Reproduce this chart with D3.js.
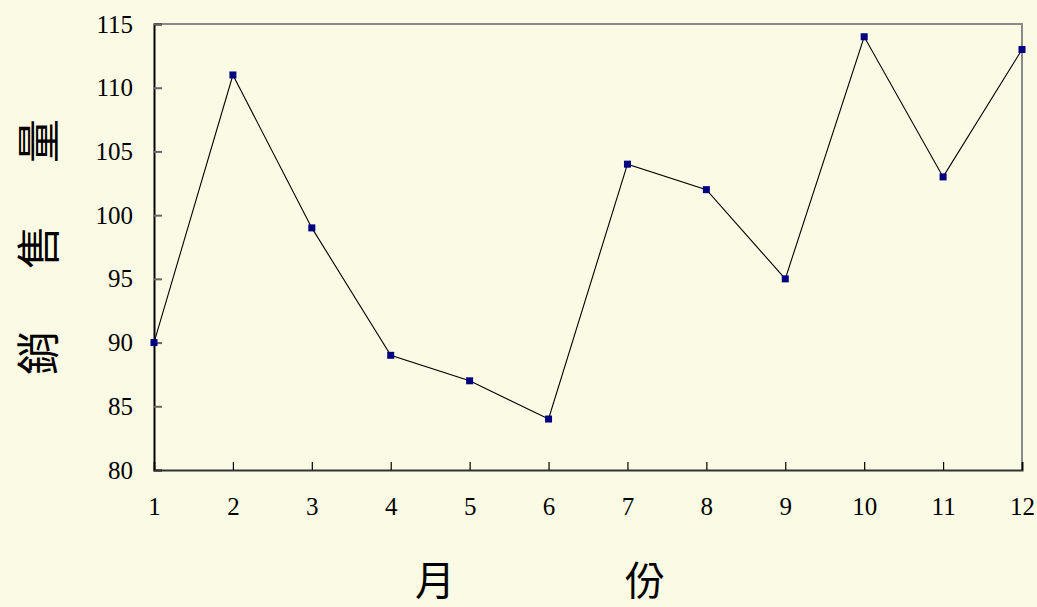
<!DOCTYPE html>
<html><head><meta charset="utf-8">
<script src="https://cdn.jsdelivr.net/npm/d3@7"></script>
<style>html,body{margin:0;padding:0;background:#FBFAE4;}svg{display:block;}</style>
</head><body>
<script>
const months = [1,2,3,4,5,6,7,8,9,10,11,12];
const sales = [90,111,99,89,87,84,104,102,95,114,103,113];
const yTicks = [80,85,90,95,100,105,110,115];
const yTitleChars = ["銷","售","量"];
const xTitleChars = ["月","份"];

const W = 1037, H = 607;
const svg = d3.select("body").append("svg").attr("width", W).attr("height", H);
svg.append("rect").attr("width", W).attr("height", H).attr("fill", "#FBFAE4");

const x = d3.scaleLinear().domain([1,12]).range([154,1022]);
const y = d3.scaleLinear().domain([80,115]).range([470,24]);

// frame top/right (gray)
svg.append("path").attr("d", `M${x(1)},${y(115)}H${x(12)}V${y(80)}`)
  .attr("fill","none").attr("stroke","#8a8a8a").attr("stroke-width",2);

// y axis
const ya = svg.append("g").attr("transform", `translate(${x(1)},0)`)
  .call(d3.axisLeft(y).tickValues(yTicks).tickSize(-8).tickPadding(21).tickFormat(d3.format("d")));
ya.select(".domain").attr("stroke","#000").attr("stroke-width",2);
ya.selectAll(".tick line").attr("stroke","#666").attr("stroke-width",2);
ya.selectAll("text").attr("font-family","'Liberation Serif','Times New Roman',serif").attr("font-size",25).attr("fill","#000");

// x axis
const xa = svg.append("g").attr("transform", `translate(0,${y(80)})`)
  .call(d3.axisBottom(x).tickValues(months).tickSize(-8).tickPadding(27).tickFormat(d3.format("d")));
xa.select(".domain").attr("stroke","#333").attr("stroke-width",2);
xa.selectAll(".tick line").attr("stroke","#000").attr("stroke-width",1.2);
xa.selectAll("text").attr("font-family","'Liberation Serif','Times New Roman',serif").attr("font-size",25).attr("fill","#000");

// line
svg.append("path").datum(months.map((m,i)=>[m,sales[i]]))
  .attr("d", d3.line().x(d=>x(d[0])).y(d=>y(d[1])))
  .attr("fill","none").attr("stroke","#000").attr("stroke-width",1.1);

// markers
svg.selectAll("rect.m").data(months).enter().append("rect").attr("class","m")
  .attr("x", (d)=>x(d)-3.5).attr("y",(d,i)=>y(sales[i])-3.5)
  .attr("width",7).attr("height",7).attr("fill","#000080");

// y title (rotated, reading bottom to top, widely spaced)
const yTitleY = [353, 247, 141];
svg.selectAll("text.yt").data(yTitleChars).enter().append("text").attr("class","yt")
  .attr("transform",(d,i)=>`translate(36,${yTitleY[i]}) rotate(-90)`)
  .attr("text-anchor","middle").attr("dominant-baseline","central")
  .attr("font-family","'Noto Sans CJK TC','Noto Sans CJK SC',sans-serif").attr("font-size",44).attr("fill","#000")
  .text(d=>d);

// x title
const xTitleX = [435, 645];
svg.selectAll("text.xt").data(xTitleChars).enter().append("text").attr("class","xt")
  .attr("x",(d,i)=>xTitleX[i]).attr("y",578).attr("text-anchor","middle").attr("dominant-baseline","central")
  .attr("font-family","'Noto Sans CJK TC','Noto Sans CJK SC',sans-serif").attr("font-size",40).attr("fill","#000")
  .text(d=>d);
</script>
</body></html>
